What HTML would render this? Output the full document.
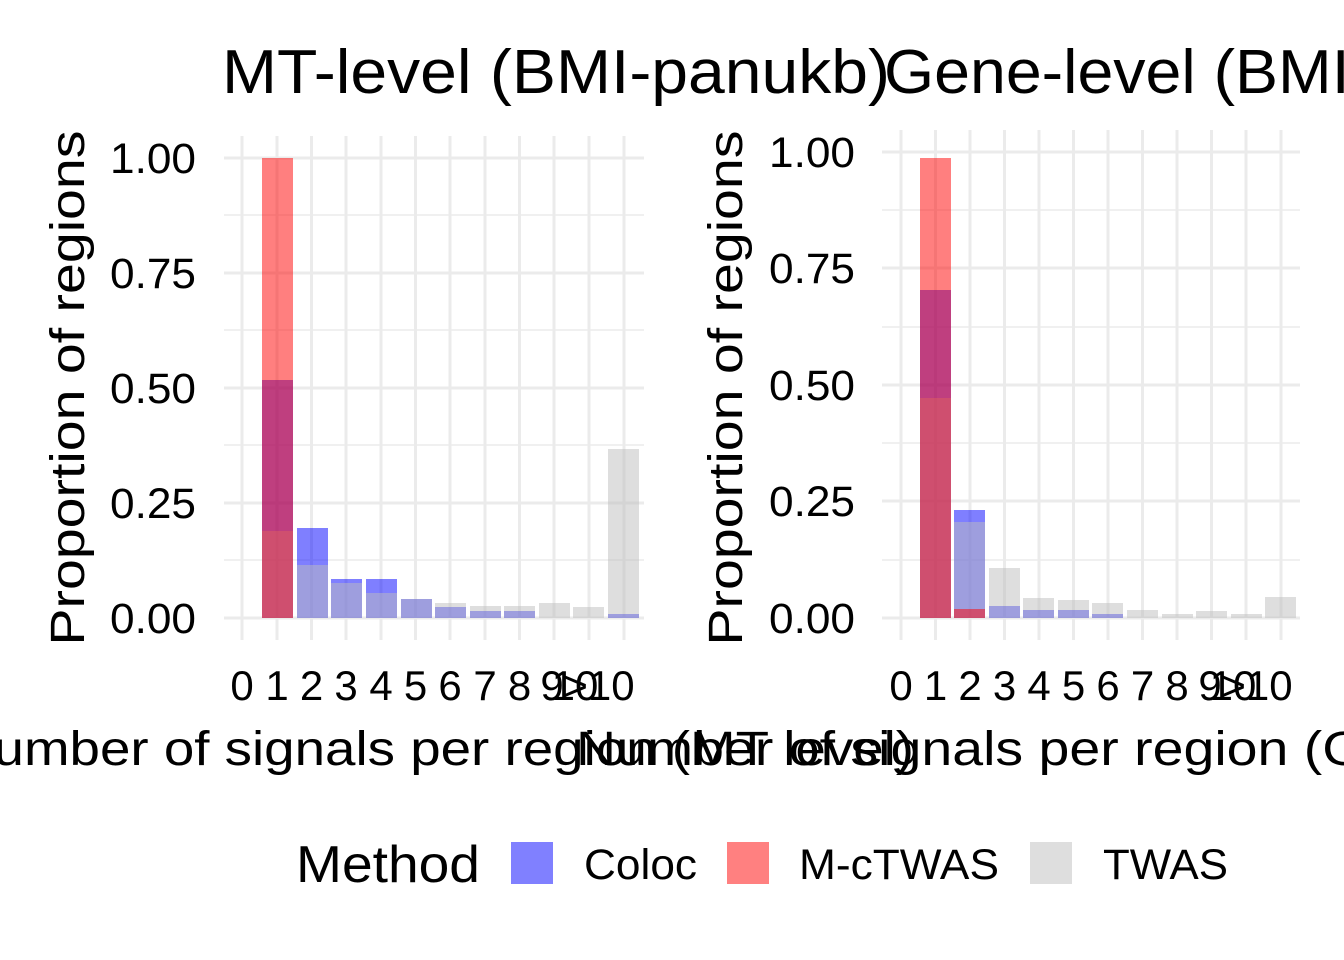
<!DOCTYPE html>
<html><head><meta charset="utf-8"><style>
html,body{margin:0;padding:0;background:#fff;}
svg{display:block;font-family:"Liberation Sans",Arial,sans-serif;}
</style></head><body>
<svg width="1344" height="960" viewBox="0 0 1344 960" xmlns="http://www.w3.org/2000/svg">
<g stroke="#ebebeb">
  <g stroke-width="1.5">
    <line x1="224" x2="644" y1="560" y2="560"/><line x1="224" x2="644" y1="445" y2="445"/>
    <line x1="224" x2="644" y1="330" y2="330"/><line x1="224" x2="644" y1="215" y2="215"/>
  </g>
  <g stroke-width="3">
    <line x1="224" x2="644" y1="618" y2="618"/><line x1="224" x2="644" y1="503" y2="503"/>
    <line x1="224" x2="644" y1="388" y2="388"/><line x1="224" x2="644" y1="273" y2="273"/>
    <line x1="224" x2="644" y1="158" y2="158"/>
    <line x1="242" x2="242" y1="136" y2="640"/><line x1="277" x2="277" y1="136" y2="640"/>
    <line x1="311.5" x2="311.5" y1="136" y2="640"/><line x1="346" x2="346" y1="136" y2="640"/>
    <line x1="381" x2="381" y1="136" y2="640"/><line x1="415.5" x2="415.5" y1="136" y2="640"/>
    <line x1="450" x2="450" y1="136" y2="640"/><line x1="485" x2="485" y1="136" y2="640"/>
    <line x1="519.5" x2="519.5" y1="136" y2="640"/><line x1="554" x2="554" y1="136" y2="640"/>
    <line x1="589" x2="589" y1="136" y2="640"/><line x1="624" x2="624" y1="136" y2="640"/>
  </g>
</g>
<g fill="#0000ff" fill-opacity="0.5">
  <rect x="262" y="380" width="31" height="238"/>
  <rect x="297" y="528" width="31" height="90"/>
  <rect x="331" y="579" width="31" height="39"/>
  <rect x="366" y="579" width="31" height="39"/>
  <rect x="401" y="599" width="31" height="19"/>
  <rect x="435" y="607" width="31" height="11"/>
  <rect x="470" y="611" width="31" height="7"/>
  <rect x="504" y="611" width="31" height="7"/>
  <rect x="608" y="614" width="31" height="4"/>
</g>
<g fill="#bebebe" fill-opacity="0.5">
  <rect x="262" y="531" width="31" height="87"/>
  <rect x="297" y="565" width="31" height="53"/>
  <rect x="331" y="583" width="31" height="35"/>
  <rect x="366" y="593" width="31" height="25"/>
  <rect x="401" y="599" width="31" height="19"/>
  <rect x="435" y="603" width="31" height="15"/>
  <rect x="470" y="606" width="31" height="12"/>
  <rect x="504" y="606" width="31" height="12"/>
  <rect x="539" y="603" width="31" height="15"/>
  <rect x="573" y="607" width="31" height="11"/>
  <rect x="608" y="449" width="31" height="169"/>
</g>
<g fill="#ff0000" fill-opacity="0.5">
  <rect x="262" y="158" width="31" height="460"/>
</g>
<g stroke="#ebebeb">
  <g stroke-width="1.5">
    <line x1="882" x2="1300" y1="560" y2="560"/><line x1="882" x2="1300" y1="443" y2="443"/>
    <line x1="882" x2="1300" y1="327" y2="327"/><line x1="882" x2="1300" y1="210" y2="210"/>
  </g>
  <g stroke-width="3">
    <line x1="882" x2="1300" y1="618" y2="618"/><line x1="882" x2="1300" y1="501" y2="501"/>
    <line x1="882" x2="1300" y1="385" y2="385"/><line x1="882" x2="1300" y1="268" y2="268"/>
    <line x1="882" x2="1300" y1="152" y2="152"/>
    <line x1="901" x2="901" y1="130" y2="640"/><line x1="935.5" x2="935.5" y1="130" y2="640"/>
    <line x1="970" x2="970" y1="130" y2="640"/><line x1="1004.5" x2="1004.5" y1="130" y2="640"/>
    <line x1="1039" x2="1039" y1="130" y2="640"/><line x1="1073.5" x2="1073.5" y1="130" y2="640"/>
    <line x1="1108" x2="1108" y1="130" y2="640"/><line x1="1142.5" x2="1142.5" y1="130" y2="640"/>
    <line x1="1177" x2="1177" y1="130" y2="640"/><line x1="1211.5" x2="1211.5" y1="130" y2="640"/>
    <line x1="1246" x2="1246" y1="130" y2="640"/><line x1="1281" x2="1281" y1="130" y2="640"/>
  </g>
</g>
<g fill="#0000ff" fill-opacity="0.5">
  <rect x="920" y="290" width="31" height="328"/>
  <rect x="954" y="510" width="31" height="108"/>
  <rect x="989" y="606" width="31" height="12"/>
  <rect x="1023" y="610" width="31" height="8"/>
  <rect x="1058" y="610" width="31" height="8"/>
  <rect x="1092" y="614" width="31" height="4"/>
</g>
<g fill="#bebebe" fill-opacity="0.5">
  <rect x="920" y="398" width="31" height="220"/>
  <rect x="954" y="522" width="31" height="96"/>
  <rect x="989" y="568" width="31" height="50"/>
  <rect x="1023" y="598" width="31" height="20"/>
  <rect x="1058" y="600" width="31" height="18"/>
  <rect x="1092" y="603" width="31" height="15"/>
  <rect x="1127" y="610" width="31" height="8"/>
  <rect x="1162" y="614" width="31" height="4"/>
  <rect x="1196" y="611" width="31" height="7"/>
  <rect x="1231" y="614" width="31" height="4"/>
  <rect x="1265" y="597" width="31" height="21"/>
</g>
<g fill="#ff0000" fill-opacity="0.5">
  <rect x="920" y="158" width="31" height="460"/>
  <rect x="954" y="609" width="31" height="9"/>
</g>
<g fill="#000">
  <text x="222" y="93" font-size="62" textLength="668" lengthAdjust="spacingAndGlyphs">MT-level (BMI-panukb)</text>
  <text x="884" y="93" font-size="62" textLength="720" lengthAdjust="spacingAndGlyphs">Gene-level (BMI-panukb)</text>
  <g font-size="43" text-anchor="end">
    <text x="196" y="173" textLength="86" lengthAdjust="spacingAndGlyphs">1.00</text><text x="196" y="288" textLength="86" lengthAdjust="spacingAndGlyphs">0.75</text>
    <text x="196" y="403" textLength="86" lengthAdjust="spacingAndGlyphs">0.50</text><text x="196" y="518" textLength="86" lengthAdjust="spacingAndGlyphs">0.25</text>
    <text x="196" y="633" textLength="86" lengthAdjust="spacingAndGlyphs">0.00</text>
    <text x="855" y="167" textLength="86" lengthAdjust="spacingAndGlyphs">1.00</text><text x="855" y="283" textLength="86" lengthAdjust="spacingAndGlyphs">0.75</text>
    <text x="855" y="400" textLength="86" lengthAdjust="spacingAndGlyphs">0.50</text><text x="855" y="516" textLength="86" lengthAdjust="spacingAndGlyphs">0.25</text>
    <text x="855" y="633" textLength="86" lengthAdjust="spacingAndGlyphs">0.00</text>
  </g>
  <text transform="translate(84,388) rotate(-90)" font-size="48" text-anchor="middle" textLength="515" lengthAdjust="spacingAndGlyphs">Proportion of regions</text>
  <text transform="translate(742,388) rotate(-90)" font-size="48" text-anchor="middle" textLength="515" lengthAdjust="spacingAndGlyphs">Proportion of regions</text>
  <g font-size="42" text-anchor="middle">
    <text x="242" y="700">0</text><text x="277" y="700">1</text><text x="311.5" y="700">2</text>
    <text x="346" y="700">3</text><text x="381" y="700">4</text><text x="415.5" y="700">5</text>
    <text x="450" y="700">6</text><text x="485" y="700">7</text><text x="519.5" y="700">8</text>
    <text x="552" y="700">9</text><text x="575" y="700">10</text><text x="599" y="700">&gt;10</text>
    <text x="901" y="700">0</text><text x="935.5" y="700">1</text><text x="970" y="700">2</text>
    <text x="1004.5" y="700">3</text><text x="1039" y="700">4</text><text x="1073.5" y="700">5</text>
    <text x="1108" y="700">6</text><text x="1142.5" y="700">7</text><text x="1177" y="700">8</text>
    <text x="1210" y="700">9</text><text x="1233" y="700">10</text><text x="1257" y="700">&gt;10</text>
  </g>
  <text x="-46" y="765" font-size="48" textLength="960" lengthAdjust="spacingAndGlyphs">Number of signals per region (MT level)</text>
  <text x="576" y="765" font-size="48" textLength="1030" lengthAdjust="spacingAndGlyphs">Number of signals per region (Gene level)</text>
  <text x="296" y="882" font-size="52" textLength="184" lengthAdjust="spacingAndGlyphs">Method</text>
  <text x="584" y="879" font-size="43" textLength="113" lengthAdjust="spacingAndGlyphs">Coloc</text>
  <text x="799" y="879" font-size="43" textLength="200" lengthAdjust="spacingAndGlyphs">M-cTWAS</text>
  <text x="1103" y="879" font-size="43" textLength="125" lengthAdjust="spacingAndGlyphs">TWAS</text>
</g>
<rect x="511" y="842" width="42" height="42" fill="#8080ff"/>
<rect x="727" y="842" width="42" height="42" fill="#ff8080"/>
<rect x="1030" y="842" width="42" height="42" fill="#dedede"/>
</svg>
</body></html>
